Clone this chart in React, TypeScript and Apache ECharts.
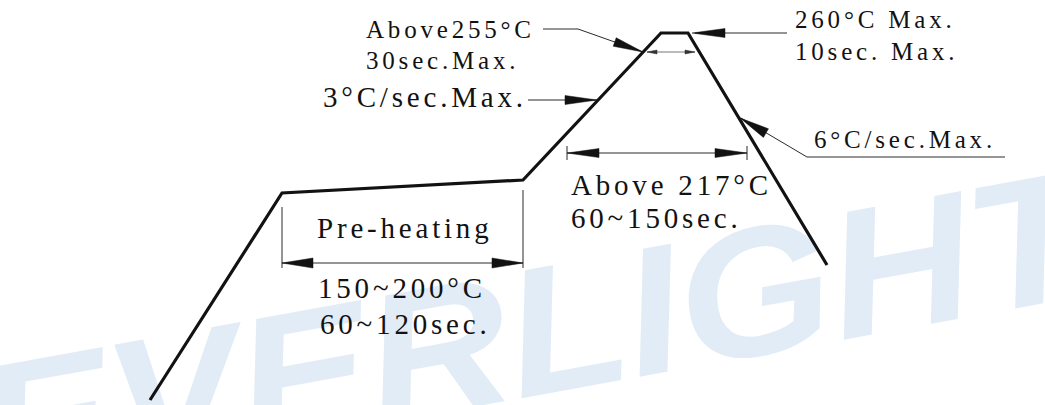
import React, { useEffect, useRef } from "react";
import * as echarts from "echarts";

// Schematic reflow profile (diagram units: x = time axis, y = temperature level)
const profileTime = [150, 282, 523, 661, 688, 827];
const profileLevel = [5, 212, 225, 372, 372, 140];

// Annotation texts
const peakZoneLabels = ["Above255°C", "30sec.Max."];
const peakLabels = ["260°C Max.", "10sec. Max."];
const rampUpLabel = "3°C/sec.Max.";
const rampDownLabel = "6°C/sec.Max.";
const liquidusLabels = ["Above 217°C", "60~150sec."];
const preheatTitle = "Pre-heating";
const preheatLabels = ["150~200°C", "60~120sec."];
const watermarkText = "EVERLIGHT";

const INK = "#121212";

type P = [number, number];

function arrowHead(tip: P, from: P, len: number, half: number, fill = INK) {
  const dx = from[0] - tip[0];
  const dy = from[1] - tip[1];
  const d = Math.hypot(dx, dy);
  const ux = dx / d;
  const uy = dy / d;
  const bx = tip[0] + ux * len;
  const by = tip[1] + uy * len;
  return {
    type: "polygon",
    silent: true,
    z: 10,
    shape: {
      points: [tip, [bx - uy * half, by + ux * half], [bx + uy * half, by - ux * half]],
    },
    style: { fill, stroke: fill, lineWidth: 0.5 },
  };
}

function thin(points: P[], stroke = "#2a2a2a", lineWidth = 1) {
  return {
    type: "polyline",
    silent: true,
    z: 10,
    shape: { points },
    style: { stroke, lineWidth, fill: "none" },
  };
}

function label(text: string, x: number, y: number, size: number) {
  return {
    type: "text",
    silent: true,
    z: 10,
    x,
    y,
    style: {
      text,
      fontSize: size,
      fontFamily: "Liberation Serif",
      fill: INK,
      align: "left",
      verticalAlign: "middle",
    },
  };
}

const spacedTexts = new Set<string>([
  ...peakZoneLabels,
  ...peakLabels,
  rampUpLabel,
  rampDownLabel,
  ...liquidusLabels,
  preheatTitle,
  ...preheatLabels,
]);

export default function App() {
  const ref = useRef<HTMLDivElement>(null);

  useEffect(() => {
    document.body.style.margin = "0";
    document.body.style.overflow = "hidden";
    const el = ref.current!;
    const chart = echarts.init(el, undefined, { renderer: "svg" });

    const graphic: any[] = [
      {
        type: "text",
        silent: true,
        z: 0,
        x: -20,
        y: 432,
        rotation: 0.18,
        scaleX: 1.08,
        style: {
          text: watermarkText,
          fontSize: 182,
          fontWeight: "bold",
          fontStyle: "italic",
          fontFamily: "Liberation Sans",
          fill: "#e1ecf6",
          align: "left",
          verticalAlign: "middle",
        },
      },
      // Above 255 °C leader
      thin([[543, 29], [578, 29], [643, 52]]),
      arrowHead([643, 52], [578, 29], 30, 4.5),
      // small width marker between ramps
      thin([[647, 52], [695, 52]], "#777", 1),
      arrowHead([647, 52], [695, 52], 10, 2, "#333"),
      arrowHead([695, 52], [647, 52], 10, 2, "#333"),
      // 260 °C peak arrow
      thin([[787, 33], [695, 33]]),
      arrowHead([692, 33], [787, 33], 33, 4.5),
      // 3 °C/sec ramp-up arrow
      thin([[528, 100], [597, 100]]),
      arrowHead([597, 100], [528, 100], 32, 4.5),
      // 6 °C/sec ramp-down leader
      thin([[1005, 157], [807, 157], [741, 118]]),
      arrowHead([740, 118], [807, 157], 30, 5),
      // Above 217 °C dimension
      thin([[567, 153], [747, 153]]),
      thin([[567, 146], [567, 160]]),
      thin([[747, 146], [747, 160]]),
      arrowHead([567, 153], [747, 153], 32, 4.5),
      arrowHead([747, 153], [567, 153], 32, 4.5),
      // Pre-heating dimension
      thin([[282, 263], [523, 263]]),
      thin([[282, 207], [282, 268]]),
      thin([[523, 190], [523, 268]]),
      arrowHead([282, 263], [523, 263], 31, 5),
      arrowHead([523, 263], [282, 263], 31, 5),
      // texts
      label(peakZoneLabels[0], 366, 29, 25),
      label(peakZoneLabels[1], 366, 60, 25),
      label(rampUpLabel, 323, 97, 29),
      label(peakLabels[0], 795, 19, 25),
      label(peakLabels[1], 795, 51, 25),
      label(rampDownLabel, 814, 139, 25),
      label(liquidusLabels[0], 571, 185, 29),
      label(liquidusLabels[1], 571, 218, 29),
      label(preheatTitle, 317, 228, 29),
      label(preheatLabels[0], 318, 288, 29),
      label(preheatLabels[1], 320, 324, 29),
    ];

    chart.setOption({
      animation: false,
      backgroundColor: "#ffffff",
      grid: { left: 0, right: 0, top: 0, bottom: 0 },
      xAxis: { type: "value", min: 0, max: 1045, show: false },
      yAxis: { type: "value", min: 0, max: 405, show: false },
      series: [
        {
          type: "line",
          silent: true,
          z: 5,
          symbol: "none",
          data: profileTime.map((t, i) => [t, profileLevel[i]]),
          lineStyle: { color: INK, width: 3.2, join: "miter" },
        },
      ],
      graphic,
    });

    const applySpacing = () => {
      el.querySelectorAll("text").forEach((t) => {
        if (spacedTexts.has((t.textContent || "").trim())) {
          t.setAttribute("letter-spacing", "3.8");
        }
      });
    };
    applySpacing();
    chart.on("finished", applySpacing);

    return () => {
      chart.dispose();
    };
  }, []);

  return <div ref={ref} style={{ width: 1045, height: 405 }} />;
}
